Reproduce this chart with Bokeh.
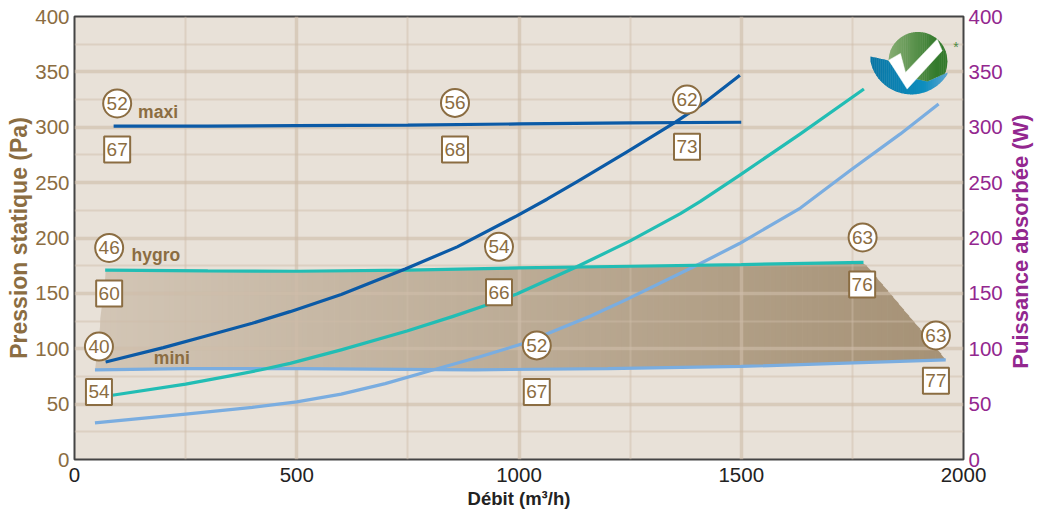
import math
import numpy as np
from bokeh.plotting import figure
from bokeh.models import Range1d, LinearAxis, FixedTicker, Label
from bokeh.core.properties import value
from bokeh.embed import file_html
from bokeh.resources import INLINE

FONT = "Liberation Sans"
BROWN = "#8b6d42"
PURPLE = "#93278f"

x_ticks = [0, 500, 1000, 1500, 2000]
x_minor = [250, 750, 1250, 1750]
y_ticks = [0, 50, 100, 150, 200, 250, 300, 350, 400]
y_minor = [25, 75, 125, 175, 225, 275, 325, 375]

maxi_x = [88, 300, 500, 750, 1000, 1250, 1500]
maxi_y = [301, 301, 301.5, 302, 303, 304, 304.5]
hygro_x = [69, 300, 500, 750, 1000, 1250, 1500, 1775]
hygro_y = [171, 170.3, 170, 171, 173, 174.5, 176, 178]
mini_x = [46, 250, 500, 900, 1200, 1500, 1960]
mini_y = [81, 82, 82, 81, 82, 84, 90]

p_dark_x = [70, 200, 300, 400, 485, 600, 744, 861, 995, 1063, 1130, 1243, 1352, 1415, 1497]
p_dark_y = [88, 101, 112, 123, 133.5, 149, 172, 192, 220, 235, 250.6, 277.7, 304.7, 321.5, 347]
p_teal_x = [85, 250, 350, 420, 485, 600, 748, 850, 924, 995, 1130, 1250, 1363, 1408, 1496, 1633, 1776]
p_teal_y = [58, 68, 75.5, 81, 86.8, 99, 116, 129, 139, 149.5, 174, 197.4, 222, 233, 256.6, 294, 334.5]
p_light_x = [46, 250, 400, 500, 600, 699, 808, 910, 1010, 1160, 1239, 1408, 1496, 1633, 1745, 1858, 1944]
p_light_y = [33, 41, 47, 52, 59, 68.5, 81, 92.5, 104.8, 129.4, 143.9, 177, 195, 227, 261, 294, 321]

circle_x = [96, 856, 1378, 78, 955, 1773, 55, 1040, 1938]
circle_y = [321.5, 322, 325, 191, 192, 200.5, 102, 103, 112]
circle_t = ["52", "56", "62", "46", "54", "63", "40", "52", "63"]
box_x = [96, 856, 1378, 78, 955, 1772, 55, 1040, 1938]
box_y = [280, 280, 282.5, 150, 151, 158, 61, 61, 71]
box_t = ["67", "68", "73", "60", "66", "76", "54", "67", "77"]

curve_names = ["maxi", "hygro", "mini"]
curve_name_x = [188, 183, 219]
curve_name_y = [314, 184.5, 91.5]

region_x = [46, 69, 300, 500, 750, 1000, 1250, 1500, 1775, 1960]
region_y = [80, 171, 170.3, 170, 171, 173, 174.5, 176, 178, 90]

p = figure(width=1037, height=511, output_backend="svg", toolbar_location=None,
           x_range=Range1d(0, 2000), y_range=Range1d(0, 400),
           min_border_left=74, min_border_right=74, min_border_top=16, min_border_bottom=51,
           background_fill_color="#e8e1d8", border_fill_color="white",
           outline_line_color="#444444", outline_line_width=2)

# shaded operating region, horizontal gradient built from thin strips
edge_x = np.linspace(46, 1960, 161)
top_y = np.interp(edge_x, region_x, region_y)
bot_y = np.interp(edge_x, mini_x, mini_y)
c0 = np.array([0xd3, 0xc6, 0xb6]); c1 = np.array([0xa6, 0x92, 0x76])
for i in range(len(edge_x) - 1):
    t = i / (len(edge_x) - 2)
    c = c0 + (c1 - c0) * t
    col = "#%02x%02x%02x" % tuple(int(v) for v in c)
    xs = [edge_x[i], min(edge_x[i + 1] + 1.5, edge_x[-1])]
    p.varea(x=xs, y1=[bot_y[i], bot_y[i + 1]], y2=[top_y[i], top_y[i + 1]],
            fill_color=col, level="image")

# grids
for g, ticks, minor in ((p.xgrid, x_ticks, x_minor), (p.ygrid, y_ticks, y_minor)):
    g.ticker = FixedTicker(ticks=ticks, minor_ticks=minor)
    g.grid_line_color = "#cebda9"
    g.grid_line_alpha = 0.62
    g.grid_line_width = 3.5
    g.minor_grid_line_color = "#cebda9"
    g.minor_grid_line_alpha = 0.45
    g.minor_grid_line_width = 2

def style(ax, color, ticks, standoff, size="20.5px"):
    ax.ticker = FixedTicker(ticks=ticks)
    ax.major_label_text_color = color
    ax.major_label_text_font = FONT
    ax.major_label_text_font_size = size
    ax.major_tick_line_color = None
    ax.minor_tick_line_color = None
    ax.major_tick_out = 0
    ax.major_tick_in = 0
    ax.minor_tick_out = 0
    ax.minor_tick_in = 0
    ax.axis_line_color = None
    ax.major_label_standoff = standoff

ax_l = p.yaxis[0]
style(ax_l, BROWN, y_ticks, 5)
ax_l.axis_label = "Pression statique (Pa)"
ax_l.axis_label_text_color = BROWN
ax_l.axis_label_text_font = FONT
ax_l.axis_label_text_font_style = "bold"
ax_l.axis_label_text_font_size = "23px"
ax_l.axis_label_standoff = 0

ax_b = p.xaxis[0]
style(ax_b, "#222222", x_ticks, 8)
ax_b.axis_label = "Débit (m³/h)"
ax_b.axis_label_text_color = "#222222"
ax_b.axis_label_text_font = FONT
ax_b.axis_label_text_font_style = "bold"
ax_b.axis_label_text_font_size = "18.5px"
ax_b.axis_label_standoff = 3

ax_r = LinearAxis()
style(ax_r, PURPLE, y_ticks, 5)
p.add_layout(ax_r, "right")

# right-hand title reads bottom to top, so it is a label placed in the side panel
p.add_layout(Label(x=15, y=218, x_units="screen", y_units="screen", text="Puissance absorbée (W)",
                   angle=math.pi / 2, text_align="center", text_baseline="middle",
                   text_font=FONT, text_font_style="bold", text_font_size="22px",
                   text_color=PURPLE), "right")

# curves
LW = 3.2
p.line(p_light_x, p_light_y, line_color="#7aade0", line_width=LW, line_join="round")
p.line(mini_x, mini_y, line_color="#7aade0", line_width=LW)
p.line(p_teal_x, p_teal_y, line_color="#22bdb4", line_width=LW, line_join="round")
p.line(hygro_x, hygro_y, line_color="#22bdb4", line_width=LW)
p.line(p_dark_x, p_dark_y, line_color="#0b5aa6", line_width=LW, line_join="round")
p.line(maxi_x, maxi_y, line_color="#0b5aa6", line_width=LW)

# markers
p.scatter(circle_x, circle_y, marker="circle", size=28, fill_color="white",
          line_color=BROWN, line_width=2)
p.scatter(box_x, box_y, marker="square", size=26, fill_color="white",
          line_color=BROWN, line_width=2)
for xs, ys, ts in ((circle_x, circle_y, circle_t), (box_x, box_y, box_t)):
    p.text(xs, ys, text=ts, text_font=value(FONT), text_font_size="19px",
           text_color=BROWN, text_align="center", text_baseline="middle")
p.text(curve_name_x, curve_name_y, text=curve_names, text_font=value(FONT), text_font_size="17.5px",
       text_font_style="bold", text_color=BROWN, text_align="center", text_baseline="middle")

# logo, positioned in pixels of the frame
def px(a): return (np.asarray(a, float) - 74.5) / 888.5 * 2000
def py(a): return (459.5 - np.asarray(a, float)) / 443.5 * 400

def lerp_col(a, b, t):
    c = np.array(a) + (np.array(b) - np.array(a)) * t
    return "#%02x%02x%02x" % tuple(int(v) for v in c)

edge_px = [870, 888, 907, 913, 927, 947]
edge_py = [56, 60, 85, 78, 81, 72]
bl = np.linspace(870, 947, 40)
for i in range(len(bl) - 1):
    sx = np.linspace(bl[i], min(bl[i + 1] + 0.4, 947), 3)
    low = 52 + np.sqrt(np.maximum(42 ** 2 - (sx - 911) ** 2, 0))
    up = np.minimum(np.interp(sx, edge_px, edge_py), low)
    t = i / (len(bl) - 2)
    col = lerp_col((0x08, 0x76, 0xa6), (0x0e, 0x8e, 0xbf), t / 0.7) if t < 0.7 else \
        lerp_col((0x0e, 0x8e, 0xbf), (0x5a, 0xa4, 0xd0), (t - 0.7) / 0.3)
    p.patch(px(np.r_[sx, sx[::-1]]), py(np.r_[up, low[::-1]]), fill_color=col, line_color=None)

cx, cy, r = 917.5, 61, 29.5
n = 28
vx = np.linspace(cx - r, cx + r, n + 1)
for i in range(n):
    t = i / (n - 1)
    col = lerp_col((0x86, 0xad, 0x72), (0x33, 0x7a, 0x2c), min(t * 1.2, 1))
    sx = np.linspace(vx[i], min(vx[i + 1] + 0.4, cx + r), 4)
    h = np.sqrt(np.maximum(r * r - (sx - cx) ** 2, 0))
    low = np.minimum(cy + h, np.interp(sx, edge_px, edge_py))
    up = np.minimum(cy - h, low)
    p.patch(px(np.r_[sx, sx[::-1]]), py(np.r_[up, low[::-1]]), fill_color=col, line_color=None)

tick_x = [888.3, 900, 905, 936.7, 941.7, 906.7]
tick_y = [59.7, 53, 72, 38.7, 50.3, 88.7]
p.patch(px(tick_x), py(tick_y), fill_color="white", line_color="white", line_width=0.5)
p.text(px([955.5]), py([47]), text=["*"], text_font=value(FONT), text_font_size="14px",
       text_color="#4d8a44", text_align="center", text_baseline="middle")

html = file_html(p, INLINE)
open("out.html", "w").write(html)
